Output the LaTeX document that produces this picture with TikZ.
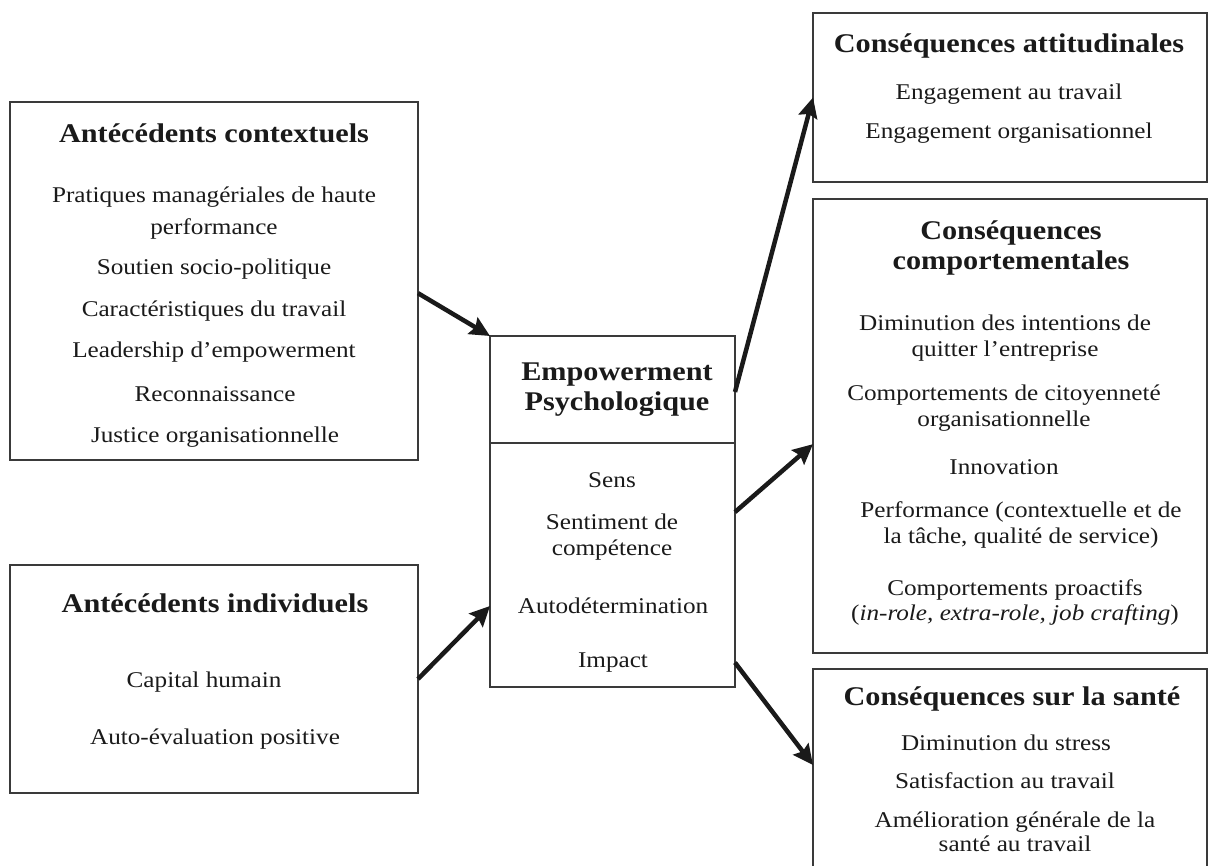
\documentclass[tikz,border=0pt]{standalone}
\usepackage{fontspec}
\setmainfont{Liberation Serif}[FakeStretch=1.12]
\usetikzlibrary{arrows.meta,calc}
\definecolor{ink}{HTML}{1A1A1A}
\definecolor{frame}{HTML}{3A3A3A}
\begin{document}
\begin{tikzpicture}[x=1pt,y=-1pt,
  box/.style={draw=frame,line width=1.8pt,rectangle,inner sep=0pt,outer sep=0pt,anchor=north west},
  ttl/.style={anchor=base,align=center,text=ink,inner sep=0pt,font=\fontsize{27}{30.5}\selectfont\bfseries},
  itm/.style={anchor=base,align=center,text=ink,inner sep=0pt,font=\fontsize{22.5}{26}\selectfont},
  arr/.style={draw=ink,line width=4.5pt,-{Stealth[length=20pt,width=19pt,inset=3pt]}}]
\useasboundingbox (0,0) rectangle (1208,866);
\clip (0,0) rectangle (1208,866);
\fill[white] (0,0) rectangle (1208,866);

% boxes
\node[box,minimum width=408pt,minimum height=358pt] (ctx) at (10,102) {};
\node[box,minimum width=408pt,minimum height=228pt] (ind) at (10,565) {};
\node[box,minimum width=245pt,minimum height=107pt] (empT) at (490,336) {};
\node[box,minimum width=245pt,minimum height=244pt] (empB) at (490,443) {};
\node[box,minimum width=394pt,minimum height=169pt] (att) at (813,13) {};
\node[box,minimum width=394pt,minimum height=454pt] (comp) at (813,199) {};
\node[box,minimum width=394pt,minimum height=210pt] (sante) at (813,669) {};

% Antécédents contextuels
\node[ttl] (ctxT) at (214,143) {Antécédents contextuels};
\node[itm,font=\fontsize{22.5}{32}\selectfont] (ctx1) at (214,235) {Pratiques managériales de haute\\performance};
\node[itm] (ctx2) at (214,275) {Soutien socio-politique};
\node[itm] (ctx3) at (214,317) {Caractéristiques du travail};
\node[itm] (ctx4) at (214,358) {Leadership d’empowerment};
\node[itm] (ctx5) at (215,402) {Reconnaissance};
\node[itm] (ctx6) at (215,443) {Justice organisationnelle};

% Antécédents individuels
\node[ttl] (indT) at (215,612) {Antécédents individuels};
\node[itm] (ind1) at (204,687) {Capital humain};
\node[itm] (ind2) at (215,744) {Auto-évaluation positive};

% Empowerment
\node[ttl] (empTT) at (617,411) {Empowerment\\Psychologique};
\node[itm] (emp1) at (612,488) {Sens};
\node[itm] (emp2) at (612,555) {Sentiment de\\compétence};
\node[itm] (emp3) at (613,613) {Autodétermination};
\node[itm] (emp4) at (613,667) {Impact};

% Conséquences attitudinales
\node[ttl] (attT) at (1009,53) {Conséquences attitudinales};
\node[itm] (att1) at (1009,100) {Engagement au travail};
\node[itm] (att2) at (1009,139) {Engagement organisationnel};

% Conséquences comportementales
\node[ttl,font=\fontsize{27}{30}\selectfont\bfseries] (compT) at (1011,270) {Conséquences\\comportementales};
\node[itm] (comp1) at (1005,357) {Diminution des intentions de\\quitter l’entreprise};
\node[itm] (comp2) at (1004,427) {Comportements de citoyenneté\\organisationnelle};
\node[itm] (comp3) at (1004,475) {Innovation};
\node[itm,font=\fontsize{22.5}{25}\selectfont] (comp4) at (1021,543) {Performance (contextuelle et de\\la tâche, qualité de service)};
\node[itm,font=\fontsize{22.5}{25}\selectfont] (comp5) at (1015,620) {Comportements proactifs\\(\textit{in-role, extra-role, job crafting})};

% Conséquences sur la santé
\node[ttl] (santeT) at (1012,705) {Conséquences sur la santé};
\node[itm] (sante1) at (1006,750) {Diminution du stress};
\node[itm] (sante2) at (1005,788) {Satisfaction au travail};
\node[itm,font=\fontsize{22.5}{24}\selectfont] (sante3) at (1015,851) {Amélioration générale de la\\santé au travail};

% arrows
\draw[arr] ($(ctx.north east)!0.534!(ctx.south east)$) -- (empT.north west);
\draw[arr] (ind.east) -- ($(empB.north west)!0.668!(empB.south west)$);
\draw[arr] ($(empT.north east)!0.523!(empT.south east)$) -- (att.west);
\draw[arr] ($(empB.north east)!0.283!(empB.south east)$) -- ($(comp.north west)!0.54!(comp.south west)$);
\draw[arr] ($(empB.north east)!0.90!(empB.south east)$) -- ($(sante.north west)!0.457!(sante.south west)$);
\end{tikzpicture}
\end{document}
